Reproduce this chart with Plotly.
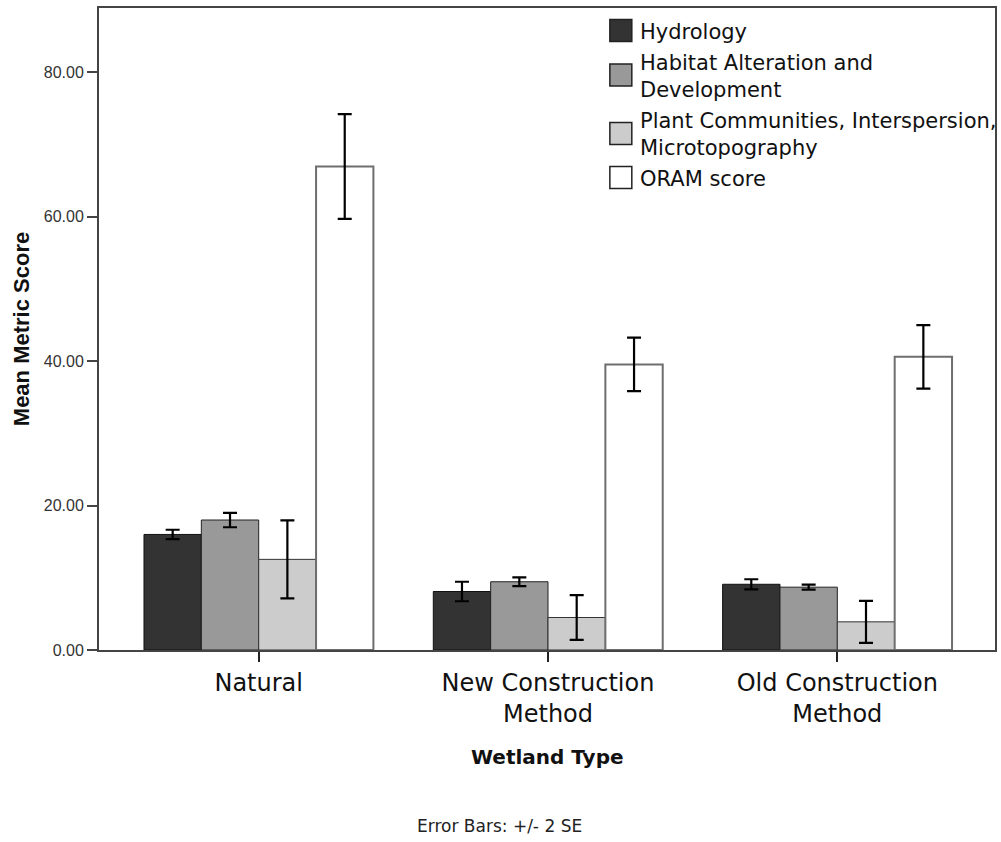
import plotly.graph_objects as go

# Wetland types along the x axis
wetland_types = ["Natural", "New Construction<br>Method", "Old Construction<br>Method"]

# Metric series: mean score and the +/- 2 SE half-width for each wetland type
series_names = [
    "Hydrology",
    "Habitat Alteration and Development",
    "Plant Communities, Interspersion, Microtopography",
    "ORAM score",
]
legend_labels = [
    "Hydrology",
    "Habitat Alteration and<br>Development",
    "Plant Communities, Interspersion,<br>Microtopography",
    "ORAM score",
]
hydrology_mean = [16.0, 8.1, 9.1]
hydrology_err = [0.65, 1.35, 0.7]
habitat_mean = [18.0, 9.45, 8.7]
habitat_err = [1.0, 0.6, 0.35]
plant_mean = [12.55, 4.5, 3.9]
plant_err = [5.4, 3.1, 2.9]
oram_mean = [66.95, 39.55, 40.6]
oram_err = [7.25, 3.7, 4.4]

y_ticks = [0, 20, 40, 60, 80]

means = [hydrology_mean, habitat_mean, plant_mean, oram_mean]
errs = [hydrology_err, habitat_err, plant_err, oram_err]
fills = ["#333333", "#999999", "#cccccc", "#ffffff"]
outlines = ["#111111", "#222222", "#333333", "#6e6e6e"]
outline_w = [1, 1, 1, 2]

W, H = 1001, 842
L, R, T, B = 99, 4, 8, 192
plot_w = W - L - R
plot_h = H - T - B


def px(x):
    return (x - L) / plot_w


def py(y):
    return (H - B - y) / plot_h


fig = go.Figure()
for name, m, e, f, oc, ow in zip(series_names, means, errs, fills, outlines, outline_w):
    fig.add_trace(go.Bar(
        name=name,
        x=wetland_types,
        y=m,
        marker=dict(color=f, line=dict(color=oc, width=ow)),
        error_y=dict(type="data", array=e, visible=True, color="#000000",
                     thickness=2.2, width=7),
        showlegend=False,
    ))

# Legend drawn as swatches with text labels
legend_rows = [30.5, 75, 133.5, 177.5]
for lab, f, oc, yc in zip(legend_labels, fills, outlines, legend_rows):
    fig.add_shape(type="rect", xref="paper", yref="paper",
                  x0=px(611), x1=px(633), y0=py(yc + 11), y1=py(yc - 11),
                  fillcolor=f, line=dict(color="#222222", width=1.5))
    fig.add_annotation(xref="paper", yref="paper", x=px(639), y=py(yc + 1),
                       text=lab, showarrow=False, xanchor="left", yanchor="middle",
                       align="left",
                       font=dict(family="DejaVu Sans", size=21, color="#111111"))

fig.add_annotation(xref="paper", yref="paper", x=px(549), y=py(757),
                   text="<b>Wetland Type</b>", showarrow=False,
                   xanchor="center", yanchor="middle",
                   font=dict(family="DejaVu Sans", size=20, color="#111111"))
fig.add_annotation(xref="paper", yref="paper", x=px(500), y=py(826),
                   text="Error Bars: +/- 2 SE", showarrow=False,
                   xanchor="center", yanchor="middle",
                   font=dict(family="DejaVu Sans", size=17, color="#222222"))

fig.update_layout(
    width=W, height=H,
    margin=dict(l=L, r=R, t=T, b=B),
    paper_bgcolor="white", plot_bgcolor="white",
    barmode="group", bargap=0.207, bargroupgap=0,
    xaxis=dict(
        range=[-0.552, 2.545],
        showgrid=False, zeroline=False,
        showline=True, linecolor="#444444", linewidth=2, mirror=True,
        ticks="outside", ticklen=10, tickwidth=1.5, tickcolor="#222222",
        tickfont=dict(family="DejaVu Sans", size=24, color="#111111"),
    ),
    yaxis=dict(
        range=[0, 88.9],
        tickvals=y_ticks, tickformat=".2f",
        showgrid=False, zeroline=False,
        showline=True, linecolor="#444444", linewidth=2, mirror=True,
        ticks="outside", ticklen=10, tickwidth=2, tickcolor="#444444",
        tickfont=dict(family="Liberation Sans", size=16, color="#333333"),
        title=dict(text="<b>Mean Metric Score</b>", standoff=8,
                   font=dict(family="Liberation Sans", size=22, color="#111111")),
    ),
)

fig.write_html("out.html")
